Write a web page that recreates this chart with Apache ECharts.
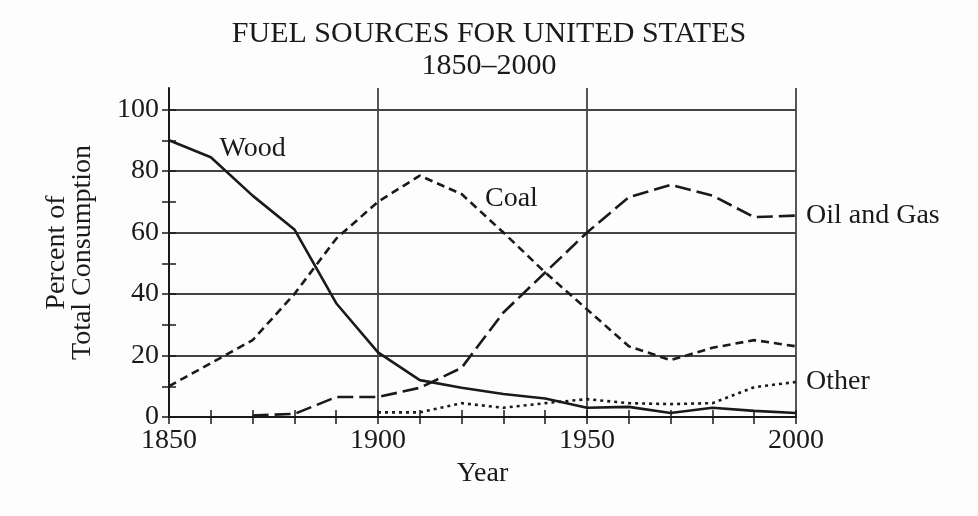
<!DOCTYPE html>
<html>
<head>
<meta charset="utf-8">
<script src="https://cdn.jsdelivr.net/npm/echarts@6/dist/echarts.min.js"></script>
<style>html,body{margin:0;padding:0;background:#fdfdfd;}#c{width:978px;height:516px;}</style>
</head>
<body>
<div id="c"></div>
<script>
var titleText = 'FUEL SOURCES FOR UNITED STATES';
var subTitleText = '1850\u20132000';
var years = [1850,1860,1870,1880,1890,1900,1910,1920,1930,1940,1950,1960,1970,1980,1990,2000];
var wood = [90,84.5,72,61,37,21,12,9.5,7.5,6,3,3.3,1.3,3,2,1.3];
var coal = [10,17.5,25,40,58,70,78.5,72.5,60,47,35,23,18.5,22.5,25,23];
var oilGas = [null,null,0.5,1,6.5,6.5,9.5,16,34,47,60,71.5,75.5,72,65,65.5];
var other = [null,null,null,null,null,1.5,1.5,4.5,3,4.5,5.8,4.5,4.2,4.5,9.7,11.4];
var yTickValues = [0,10,20,30,40,50,60,70,80,90,100];
var yLabelValues = [0,20,40,60,80,100];
var xLabelValues = [1850,1900,1950,2000];

var FONT = 'Liberation Serif';
var INK = '#1a1a1a';
var GRID = '#444';
var FS = 28;

function pairs(vals){ return years.map(function(y,i){ return [y, vals[i]]; }); }

var chart = echarts.init(document.getElementById('c'), null, {renderer:'canvas'});

function xAxisBase(inside, main){
  return {
    type:'value', min:1850, max:2000, interval:10, position:'bottom',
    axisLine:{show:main, onZero:false, lineStyle:{color:INK, width:2}},
    axisTick:{show:true, inside:inside, length:7, lineStyle:{color:INK, width:1.5}},
    axisLabel:{show:main, customValues:xLabelValues, margin:10, color:INK, fontFamily:FONT, fontSize:FS,
      formatter:function(v){ return String(v); }},
    splitLine:{show:main, lineStyle:{color:[GRID,'rgba(0,0,0,0)','rgba(0,0,0,0)','rgba(0,0,0,0)','rgba(0,0,0,0)'], width:1.8}},
    name: main ? 'Year' : '', nameLocation:'middle', nameGap:41,
    nameTextStyle:{color:INK, fontFamily:FONT, fontSize:FS}
  };
}
function yAxisBase(inside, main){
  return {
    type:'value', min:0, max:107, interval:10, position:'left',
    axisLine:{show:main, onZero:false, lineStyle:{color:INK, width:2}},
    axisTick:{show:true, inside:inside, length:7, customValues:yTickValues, lineStyle:{color:INK, width:1.5}},
    axisLabel:{show:main, customValues:yLabelValues, margin:10, color:INK, fontFamily:FONT, fontSize:FS,
      formatter:function(v){ return String(v); }},
    splitLine:{show:main, lineStyle:{color:[GRID,'rgba(0,0,0,0)'], width:1.8}},
    name: main ? 'Percent of\nTotal Consumption' : '', nameLocation:'middle', nameGap:73,
    nameTextStyle:{color:INK, fontFamily:FONT, fontSize:FS, lineHeight:26}
  };
}

var labelStyle = {color:INK, fontFamily:FONT, fontSize:FS};
var woodData = pairs(wood);
woodData[2] = {value: woodData[2], label:Object.assign({show:true, formatter:'Wood', position:'top', distance:33}, labelStyle)};
var coalData = pairs(coal);
coalData[8] = {value: coalData[8], label:Object.assign({show:true, formatter:'Coal', position:'top', distance:20, offset:[8,0]}, labelStyle)};

var hiddenSymbol = {symbol:'circle', symbolSize:0.01, showSymbol:true, itemStyle:{color:'rgba(0,0,0,0)'}};

var option = {
  backgroundColor:'#fdfdfd',
  animation:false,
  title:{
    text:titleText, subtext:subTitleText, left:'center', top:14, itemGap:2,
    textStyle:{color:INK, fontFamily:FONT, fontSize:30, fontWeight:'normal'},
    subtextStyle:{color:INK, fontFamily:FONT, fontSize:30}
  },
  grid:{left:169, right:182, top:88, bottom:99, containLabel:false},
  xAxis:[xAxisBase(false,true), xAxisBase(true,false)],
  yAxis:[yAxisBase(false,true), yAxisBase(true,false)],
  series:[
    Object.assign({name:'Wood', type:'line', data:woodData,
     lineStyle:{color:INK, width:2.6, type:'solid'}}, hiddenSymbol),
    Object.assign({name:'Coal', type:'line', data:coalData,
     lineStyle:{color:INK, width:2.6, type:[8,5]}}, hiddenSymbol),
    {name:'Oil and Gas', type:'line', data:pairs(oilGas), showSymbol:false, symbol:'none',
     lineStyle:{color:INK, width:2.6, type:[16,6]},
     endLabel:Object.assign({show:true, formatter:'Oil and Gas', distance:10}, labelStyle)},
    {name:'Other', type:'line', data:pairs(other), showSymbol:false, symbol:'none',
     lineStyle:{color:INK, width:2.6, type:[3,4]},
     endLabel:Object.assign({show:true, formatter:'Other', distance:10}, labelStyle)}
  ]
};
chart.setOption(option);
</script>
</body>
</html>
